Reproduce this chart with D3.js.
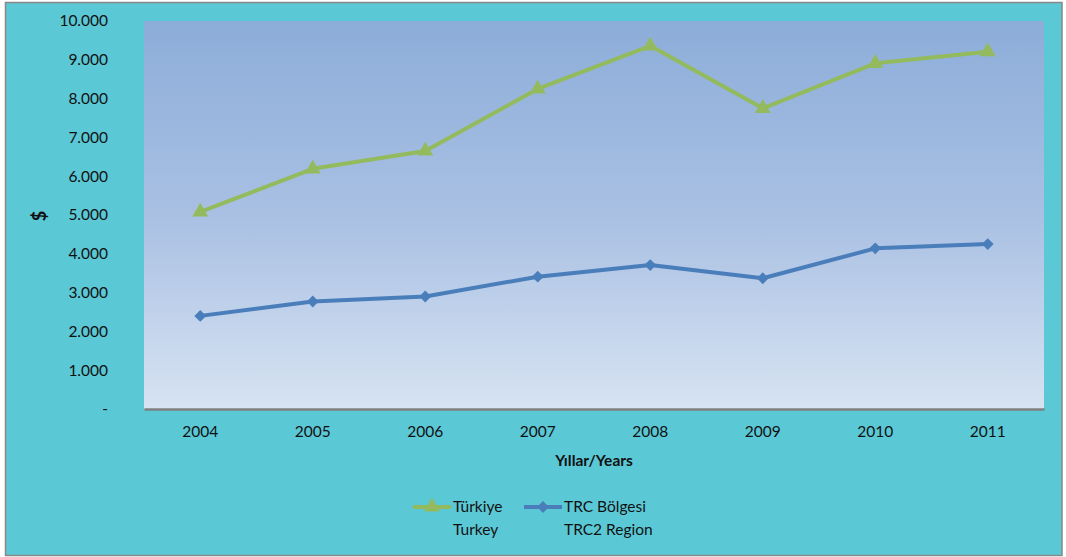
<!DOCTYPE html>
<html><head><meta charset="utf-8">
<script src="https://cdn.jsdelivr.net/npm/d3@7"></script>
<style>body{margin:0;background:#fff;}svg{display:block;font-family:Lato,"Open Sans",sans-serif;}</style>
</head><body>
<svg id="c" width="1066" height="557"></svg>
<script>
const years = ["2004","2005","2006","2007","2008","2009","2010","2011"];
const turkey = [5080, 6190, 6650, 8250, 9360, 7750, 8910, 9210];
const trc2 = [2400, 2770, 2900, 3410, 3710, 3370, 4140, 4250];
const yTicks = [0,1000,2000,3000,4000,5000,6000,7000,8000,9000,10000];
const seriesNames = [["Türkiye","Turkey"],["TRC Bölgesi","TRC2 Region"]];

const svg = d3.select("#c");
const L = 144, R = 1044, T = 21, B = 409;

svg.append("rect").attr("x",5.5).attr("y",2.5).attr("width",1056.5).attr("height",553)
  .attr("fill","#5BC8D6").attr("stroke","#888").attr("stroke-width",1.5);

const defs = svg.append("defs");
const grad = defs.append("linearGradient").attr("id","pg").attr("x1",0).attr("y1",0).attr("x2",0).attr("y2",1);
grad.append("stop").attr("offset","0%").attr("stop-color","#8CADD9");
grad.append("stop").attr("offset","50%").attr("stop-color","#A9C0E3");
grad.append("stop").attr("offset","100%").attr("stop-color","#D7E3F2");
svg.append("rect").attr("x",L).attr("y",T).attr("width",R-L).attr("height",B-T).attr("fill","url(#pg)");

const x = d3.scaleBand().domain(years).range([L,R]);
const y = d3.scaleLinear().domain([0,10000]).range([B,T]);
const fmt = v => v===0 ? "-" : d3.format(",")(v).replace(/,/g,".");

const yAxis = svg.append("g").attr("transform",`translate(${L-33},0)`)
  .call(d3.axisLeft(y).tickValues(yTicks).tickFormat(fmt).tickSize(0));
yAxis.select(".domain").remove();
yAxis.selectAll("text").attr("font-size",15.5).attr("fill","#111").attr("font-family","Lato,sans-serif");

const xAxis = svg.append("g").attr("transform",`translate(0,${B})`)
  .call(d3.axisBottom(x).tickSize(0).tickPadding(17));
xAxis.select(".domain").attr("stroke","#808080").attr("stroke-width",2.5);
xAxis.selectAll("text").attr("font-size",15.5).attr("fill","#111").attr("font-family","Lato,sans-serif");

svg.append("text").attr("x",(L+R)/2).attr("y",466).attr("text-anchor","middle")
  .attr("font-size",15.5).attr("font-weight","bold").attr("fill","#111").text("Yıllar/Years");
svg.append("text").attr("transform","translate(46,216) rotate(-90)").attr("text-anchor","middle")
  .attr("font-size",18).attr("font-weight","bold").attr("fill","#111").text("$");

const cx = d => x(d) + x.bandwidth()/2;
const line = d3.line().x((d,i)=>cx(years[i])).y(d=>y(d));

const green = "#93BB5E", blue = "#4A7EBB";
svg.append("path").datum(turkey).attr("d",line).attr("fill","none").attr("stroke",green).attr("stroke-width",4).attr("stroke-linejoin","round");
svg.append("path").datum(trc2).attr("d",line).attr("fill","none").attr("stroke",blue).attr("stroke-width",4).attr("stroke-linejoin","round");

const tri = d3.symbol().type(d3.symbolTriangle).size(110);
const dia = d3.symbol().type(d3.symbolSquare).size(70);
svg.selectAll(".tm").data(turkey).join("path").attr("class","tm")
  .attr("transform",(d,i)=>`translate(${cx(years[i])},${y(d)})`).attr("d",tri).attr("fill",green);
svg.selectAll(".dm").data(trc2).join("path").attr("class","dm")
  .attr("transform",(d,i)=>`translate(${cx(years[i])},${y(d)}) rotate(45)`).attr("d",dia).attr("fill",blue);

// legend
const leg = [{x:413, c:green, s:tri, r:0, n:seriesNames[0]},{x:524, c:blue, s:dia, r:45, n:seriesNames[1]}];
leg.forEach(l=>{
  const g = svg.append("g");
  g.append("line").attr("x1",l.x).attr("x2",l.x+38).attr("y1",507).attr("y2",507).attr("stroke",l.c).attr("stroke-width",4);
  g.append("path").attr("transform",`translate(${l.x+19},507) rotate(${l.r})`).attr("d",l.s).attr("fill",l.c);
  l.n.forEach((t,k)=>g.append("text").attr("x",l.x+40).attr("y",507+k*23).attr("dy","0.35em")
    .attr("font-size",15.5).attr("fill","#111").text(t));
});
</script>
</body></html>
